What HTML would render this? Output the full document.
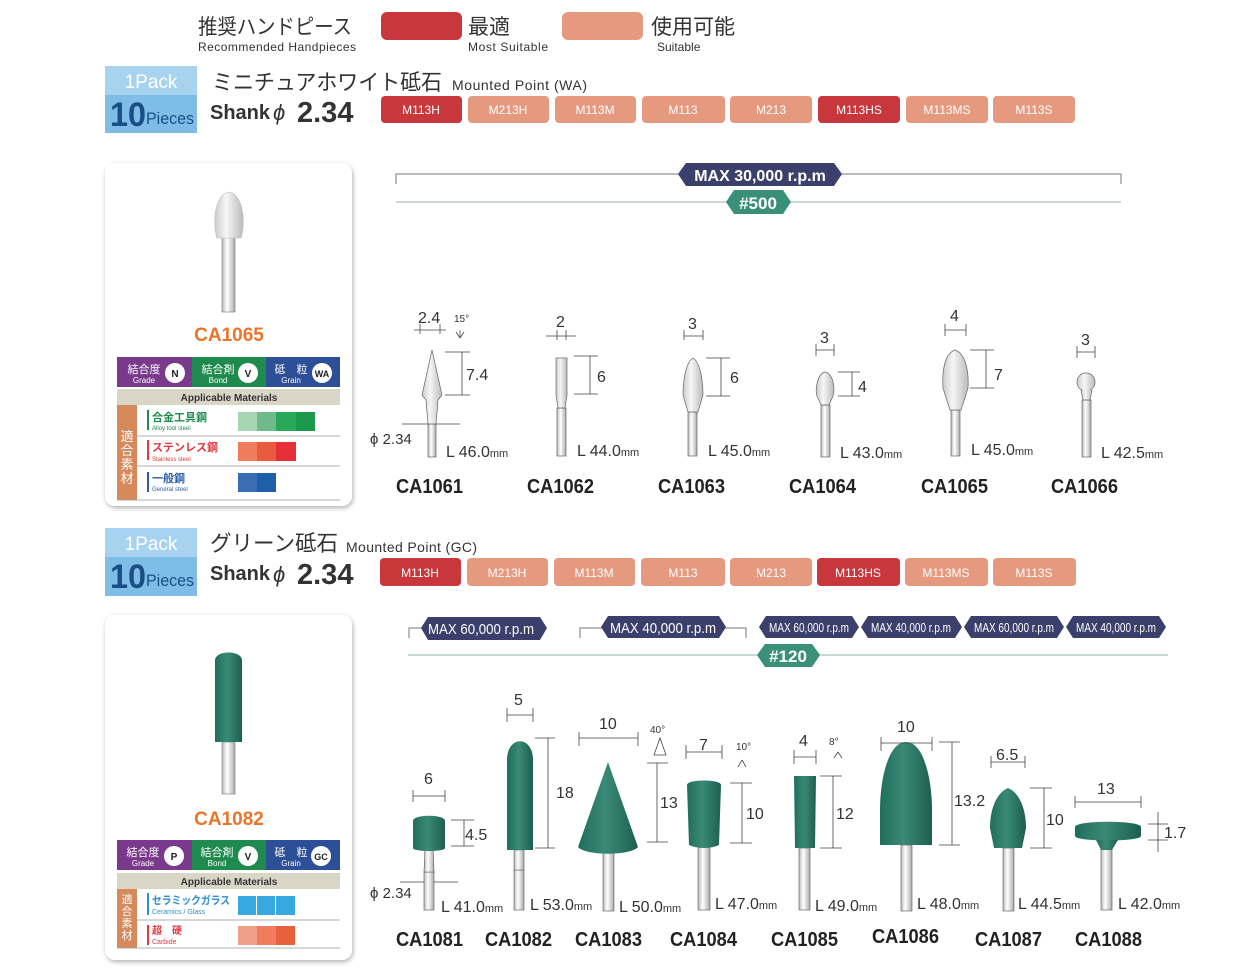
<!DOCTYPE html>
<html><head><meta charset="utf-8"><style>
html,body{margin:0;padding:0;background:#fff;}
svg{display:block;}
text{font-family:"Liberation Sans","Noto Sans CJK JP",sans-serif;}
.c{font-family:"Liberation Sans Narrow","Liberation Sans","Noto Sans CJK JP",sans-serif;}
</style></head><body>
<svg width="1243" height="969" viewBox="0 0 1243 969" xmlns="http://www.w3.org/2000/svg">
<defs>
<filter id="sh" x="-10%" y="-10%" width="120%" height="120%"><feDropShadow dx="1" dy="2" stdDeviation="2.5" flood-color="#000" flood-opacity="0.3"/></filter>
<linearGradient id="shk" x1="0" x2="1"><stop offset="0" stop-color="#bbb"/><stop offset=".4" stop-color="#fff"/><stop offset="1" stop-color="#aaa"/></linearGradient>
<linearGradient id="wh" x1="0" x2="1"><stop offset="0" stop-color="#ccc"/><stop offset=".4" stop-color="#f6f6f6"/><stop offset="1" stop-color="#bbb"/></linearGradient>
<linearGradient id="gr" x1="0" x2="1"><stop offset="0" stop-color="#1f6e5c"/><stop offset=".45" stop-color="#3a8a76"/><stop offset="1" stop-color="#1d5f50"/></linearGradient>
</defs>

<!-- header legend -->
<text x="198" y="34" font-size="21" fill="#333" textLength="154" lengthAdjust="spacingAndGlyphs">推奨ハンドピース</text>
<text x="198" y="51" font-size="12" fill="#333" textLength="158">Recommended Handpieces</text>
<rect x="381" y="12" width="81" height="28" rx="6" fill="#c8373b"/>
<text x="468" y="34" font-size="21" fill="#333">最適</text>
<text x="468" y="51" font-size="12" fill="#333" textLength="80">Most Suitable</text>
<rect x="562" y="12" width="81" height="28" rx="6" fill="#e59a80"/>
<text x="651" y="34" font-size="21" fill="#333">使用可能</text>
<text x="657" y="51" font-size="12" fill="#333">Suitable</text>

<!-- Section 1 header -->
<g>
<path d="M105 66 H197 V133 H105 Z" fill="#7dbde6"/>
<path d="M105 66 H197 V95 H105 Z" fill="#a7d3f0"/>
<text x="151" y="88" font-size="19" fill="#fff" text-anchor="middle" class="c">1Pack</text>
<text x="110" y="126" font-size="34" fill="#1a4f86" class="c" font-weight="bold" textLength="36" lengthAdjust="spacingAndGlyphs">10</text>
<text x="146" y="124" font-size="17" fill="#1a4f86" class="c" textLength="48" lengthAdjust="spacingAndGlyphs">Pieces</text>
</g>
<text x="212" y="90" font-size="22" fill="#333" textLength="230" lengthAdjust="spacingAndGlyphs">ミニチュアホワイト砥石</text>
<text x="452" y="90" font-size="14" fill="#333" textLength="135">Mounted Point (WA)</text>
<text x="210" y="119" font-size="20" fill="#333" font-weight="bold">Shank</text>
<text x="273" y="120" font-size="22" fill="#333" font-style="italic">ϕ</text>
<text x="297" y="122" font-size="29" fill="#333" font-weight="bold">2.34</text>
<g font-size="12" fill="#fff" text-anchor="middle">
<rect x="381" y="96" width="81" height="27" rx="4" fill="#c8373b"/><text x="421" y="114">M113H</text>
<rect x="468" y="96" width="81" height="27" rx="4" fill="#e59a80"/><text x="508" y="114">M213H</text>
<rect x="555" y="96" width="81" height="27" rx="4" fill="#e59a80"/><text x="595" y="114">M113M</text>
<rect x="642" y="96" width="83" height="27" rx="4" fill="#e59a80"/><text x="683" y="114">M113</text>
<rect x="730" y="96" width="82" height="27" rx="4" fill="#e59a80"/><text x="771" y="114">M213</text>
<rect x="818" y="96" width="82" height="27" rx="4" fill="#c8373b"/><text x="859" y="114">M113HS</text>
<rect x="906" y="96" width="82" height="27" rx="4" fill="#e59a80"/><text x="947" y="114">M113MS</text>
<rect x="993" y="96" width="82" height="27" rx="4" fill="#e59a80"/><text x="1034" y="114">M113S</text>
</g>

<!-- Card 1 -->
<rect x="105" y="163" width="247" height="343" rx="10" fill="#fff" filter="url(#sh)"/>
<rect x="222" y="236" width="13" height="76" fill="url(#shk)" stroke="#777" stroke-width=".6"/>
<path d="M229 192 C243 194 246 222 241 238 L217 238 C212 222 215 194 229 192 Z" fill="url(#wh)" stroke="#bbb" stroke-width=".6"/>
<text x="229" y="341" font-size="19" fill="#e8752a" text-anchor="middle" font-weight="bold">CA1065</text>
<!-- table 1 -->
<rect x="117" y="357" width="75" height="30" fill="#7a3a8c"/>
<rect x="192" y="357" width="74" height="30" fill="#1f8a4d"/>
<rect x="266" y="357" width="74" height="30" fill="#2d4f97"/>
<g fill="#fff" text-anchor="middle">
<text x="144" y="373" font-size="11">結合度</text><text x="144" y="383" font-size="8">Grade</text>
<text x="218" y="373" font-size="11">結合剤</text><text x="218" y="383" font-size="8">Bond</text>
<text x="291" y="373" font-size="11">砥　粒</text><text x="291" y="383" font-size="8">Grain</text>
<circle cx="175" cy="373" r="10"/><circle cx="248" cy="373" r="10"/><circle cx="322" cy="373" r="10"/>
</g>
<g fill="#222" text-anchor="middle" font-weight="bold">
<text x="175" y="377" font-size="10">N</text><text x="248" y="377" font-size="10">V</text><text x="322" y="377" font-size="9">WA</text>
</g>
<rect x="117" y="389" width="223" height="16" fill="#d9d6c8"/>
<text x="229" y="401" font-size="10" fill="#333" text-anchor="middle" font-weight="bold">Applicable Materials</text>
<rect x="117" y="405" width="20" height="95" fill="#d68a5c"/>
<g font-size="13" fill="#fff" text-anchor="middle">
<text x="127" y="441">適</text><text x="127" y="455">合</text><text x="127" y="469">素</text><text x="127" y="483">材</text>
</g>
<line x1="137" y1="436" x2="340" y2="436" stroke="#999" stroke-width=".8"/>
<line x1="137" y1="466" x2="340" y2="466" stroke="#999" stroke-width=".8"/>
<line x1="117" y1="500" x2="340" y2="500" stroke="#999" stroke-width=".8"/>
<rect x="147" y="410" width="2" height="20" fill="#1f8a4d"/>
<text x="152" y="421" font-size="11" fill="#1f8a4d" font-weight="bold">合金工具鋼</text>
<text x="152" y="430" font-size="6" fill="#1f8a4d">Alloy tool steel</text>
<rect x="238" y="412" width="19" height="19" fill="#a6d6b4"/><rect x="257" y="412" width="19" height="19" fill="#6dbb89"/><rect x="276" y="412" width="20" height="19" fill="#2aa85a"/><rect x="296" y="412" width="19" height="19" fill="#1b9a4c"/>
<rect x="147" y="440" width="2" height="20" fill="#e0383c"/>
<text x="152" y="451" font-size="11" fill="#e0383c" font-weight="bold">ステンレス鋼</text>
<text x="152" y="461" font-size="6" fill="#e0383c">Stainless steel</text>
<rect x="238" y="442" width="19" height="19" fill="#ef7c5c"/><rect x="257" y="442" width="19" height="19" fill="#ea5a3c"/><rect x="276" y="442" width="20" height="19" fill="#e5303a"/>
<rect x="147" y="472" width="2" height="20" fill="#2d5fa8"/>
<text x="152" y="482" font-size="11" fill="#2d5fa8" font-weight="bold">一般鋼</text>
<text x="152" y="491" font-size="6" fill="#2d5fa8">General steel</text>
<rect x="238" y="473" width="19" height="19" fill="#3a6db3"/><rect x="257" y="473" width="19" height="19" fill="#1f5ea8"/>

<!-- rpm 1 -->
<path d="M396 184 V174 H1121 V184" fill="none" stroke="#777" stroke-width="1"/>
<path d="M686 163 H834 L842 174 L834 186 H686 L678 174 Z" fill="#3b3f6b"/>
<text x="760" y="181" font-size="16" fill="#fff" text-anchor="middle" font-weight="bold">MAX 30,000 r.p.m</text>
<line x1="396" y1="202" x2="1121" y2="202" stroke="#8fb3a8" stroke-width="1"/>
<path d="M734 190 H783 L791 202 L783 214 H734 L726 202 Z" fill="#3a8f78"/>
<text x="758" y="209" font-size="17" fill="#fff" text-anchor="middle" font-weight="bold">#500</text>

<!-- tools 1 -->
<g stroke="#666" stroke-width=".7">
<rect x="428" y="424" width="8" height="33" fill="url(#shk)"/>
<path d="M432 350 L442 395 L438 400 L436 424 L428 424 L426 400 L422 395 Z" fill="url(#wh)"/>
<rect x="557" y="408" width="9" height="48" fill="url(#shk)"/>
<path d="M556 358 H567 L567 395 L565 408 H558 L556 395 Z" fill="url(#wh)"/>
<rect x="688" y="412" width="9" height="44" fill="url(#shk)"/>
<path d="M693 358 C700 362 703 380 703 395 L698 412 H688 L683 395 C683 380 686 362 693 358 Z" fill="url(#wh)"/>
<rect x="821" y="405" width="9" height="52" fill="url(#shk)"/>
<path d="M825 372 C834 374 835 390 833 396 L829 405 H821 L817 396 C815 390 817 374 825 372 Z" fill="url(#wh)"/>
<rect x="951" y="410" width="9" height="46" fill="url(#shk)"/>
<path d="M955 350 C966 354 969 372 968 388 L961 410 H950 L943 388 C942 372 944 354 955 350 Z" fill="url(#wh)"/>
<rect x="1082" y="400" width="9" height="57" fill="url(#shk)"/>
<circle cx="1086" cy="382" r="9" fill="url(#wh)"/>
<path d="M1081 390 L1083 400 H1090 L1092 390" fill="url(#wh)"/>
</g>
<g stroke="#444" stroke-width=".8" fill="none">
<path d="M420 324 V334 M440 324 V334 M414 330 H446"/>
<path d="M460 338 L456 332 M460 338 L464 332 M460 338 V330"/>
<path d="M445 352 H470 M445 395 H470 M462 352 V395"/>
<path d="M557 330 V340 M566 330 V340 M546 336 H576 M574 356 H598 M574 394 H598 M590 356 V394"/>
<path d="M684 330 V340 M703 330 V340 M684 336 H703 M706 358 H730 M706 396 H730 M721 358 V396"/>
<path d="M816 344 V356 M834 344 V356 M816 350 H834 M838 372 H860 M838 396 H860 M852 372 V396"/>
<path d="M945 324 V336 M966 324 V336 M945 330 H966 M970 350 H994 M970 388 H994 M986 350 V388"/>
<path d="M1077 346 V358 M1095 346 V358 M1077 352 H1095"/>
<path d="M402 424 H428 M436 424 H460"/>
</g>
<g font-size="16" fill="#333">
<text x="418" y="323">2.4</text><text x="454" y="322" font-size="10">15°</text>
<text x="466" y="380">7.4</text>
<text x="370" y="444" font-size="15">ϕ 2.34</text>
<text x="446" y="457">L 46.0<tspan font-size="11">mm</tspan></text>
<text x="556" y="327">2</text><text x="597" y="382">6</text>
<text x="577" y="456">L 44.0<tspan font-size="11">mm</tspan></text>
<text x="688" y="329">3</text><text x="730" y="383">6</text>
<text x="708" y="456">L 45.0<tspan font-size="11">mm</tspan></text>
<text x="820" y="343">3</text><text x="858" y="392">4</text>
<text x="840" y="458">L 43.0<tspan font-size="11">mm</tspan></text>
<text x="950" y="321">4</text><text x="994" y="380">7</text>
<text x="971" y="455">L 45.0<tspan font-size="11">mm</tspan></text>
<text x="1081" y="345">3</text>
<text x="1101" y="458">L 42.5<tspan font-size="11">mm</tspan></text>
</g>
<g font-size="20" fill="#222" font-weight="bold">
<text x="396" y="493" textLength="67" lengthAdjust="spacingAndGlyphs">CA1061</text><text x="527" y="493" textLength="67" lengthAdjust="spacingAndGlyphs">CA1062</text><text x="658" y="493" textLength="67" lengthAdjust="spacingAndGlyphs">CA1063</text>
<text x="789" y="493" textLength="67" lengthAdjust="spacingAndGlyphs">CA1064</text><text x="921" y="493" textLength="67" lengthAdjust="spacingAndGlyphs">CA1065</text><text x="1051" y="493" textLength="67" lengthAdjust="spacingAndGlyphs">CA1066</text>
</g>

<!-- Section 2 header -->
<g>
<path d="M105 528 H197 V596 H105 Z" fill="#7dbde6"/>
<path d="M105 528 H197 V557 H105 Z" fill="#a7d3f0"/>
<text x="151" y="550" font-size="19" fill="#fff" text-anchor="middle" class="c">1Pack</text>
<text x="110" y="588" font-size="34" fill="#1a4f86" class="c" font-weight="bold" textLength="36" lengthAdjust="spacingAndGlyphs">10</text>
<text x="146" y="586" font-size="17" fill="#1a4f86" class="c" textLength="48" lengthAdjust="spacingAndGlyphs">Pieces</text>
</g>
<text x="210" y="551" font-size="22" fill="#333" textLength="128" lengthAdjust="spacingAndGlyphs">グリーン砥石</text>
<text x="346" y="552" font-size="14" fill="#333" textLength="131">Mounted Point (GC)</text>
<text x="210" y="580" font-size="20" fill="#333" font-weight="bold">Shank</text>
<text x="273" y="582" font-size="22" fill="#333" font-style="italic">ϕ</text>
<text x="297" y="584" font-size="29" fill="#333" font-weight="bold">2.34</text>
<g font-size="12" fill="#fff" text-anchor="middle">
<rect x="380" y="558" width="81" height="28" rx="4" fill="#c8373b"/><text x="420" y="577">M113H</text>
<rect x="467" y="558" width="81" height="28" rx="4" fill="#e59a80"/><text x="507" y="577">M213H</text>
<rect x="554" y="558" width="81" height="28" rx="4" fill="#e59a80"/><text x="594" y="577">M113M</text>
<rect x="641" y="558" width="84" height="28" rx="4" fill="#e59a80"/><text x="683" y="577">M113</text>
<rect x="730" y="558" width="82" height="28" rx="4" fill="#e59a80"/><text x="771" y="577">M213</text>
<rect x="817" y="558" width="83" height="28" rx="4" fill="#c8373b"/><text x="858" y="577">M113HS</text>
<rect x="905" y="558" width="83" height="28" rx="4" fill="#e59a80"/><text x="946" y="577">M113MS</text>
<rect x="993" y="558" width="83" height="28" rx="4" fill="#e59a80"/><text x="1034" y="577">M113S</text>
</g>

<!-- Card 2 -->
<rect x="105" y="615" width="247" height="345" rx="10" fill="#fff" filter="url(#sh)"/>
<rect x="222" y="742" width="13" height="52" fill="url(#shk)" stroke="#777" stroke-width=".6"/>
<path d="M215 742 V660 C216 650 241 650 242 660 V742 Z" fill="url(#gr)"/>
<text x="229" y="825" font-size="19" fill="#e8752a" text-anchor="middle" font-weight="bold">CA1082</text>
<rect x="117" y="840" width="75" height="30" fill="#7a3a8c"/>
<rect x="192" y="840" width="74" height="30" fill="#1f8a4d"/>
<rect x="266" y="840" width="74" height="30" fill="#2d4f97"/>
<g fill="#fff" text-anchor="middle">
<text x="143" y="856" font-size="11">結合度</text><text x="143" y="866" font-size="8">Grade</text>
<text x="217" y="856" font-size="11">結合剤</text><text x="217" y="866" font-size="8">Bond</text>
<text x="291" y="856" font-size="11">砥　粒</text><text x="291" y="866" font-size="8">Grain</text>
<circle cx="174" cy="856" r="10"/><circle cx="248" cy="856" r="10"/><circle cx="321" cy="856" r="10"/>
</g>
<g fill="#222" text-anchor="middle" font-weight="bold">
<text x="174" y="860" font-size="10">P</text><text x="248" y="860" font-size="10">V</text><text x="321" y="860" font-size="9">GC</text>
</g>
<rect x="117" y="873" width="223" height="16" fill="#d9d6c8"/>
<text x="229" y="885" font-size="10" fill="#333" text-anchor="middle" font-weight="bold">Applicable Materials</text>
<rect x="117" y="889" width="20" height="59" fill="#d68a5c"/>
<g font-size="11" fill="#fff" text-anchor="middle">
<text x="127" y="903">適</text><text x="127" y="915">合</text><text x="127" y="927">素</text><text x="127" y="939">材</text>
</g>
<line x1="137" y1="920" x2="340" y2="920" stroke="#999" stroke-width=".8"/>
<line x1="117" y1="948" x2="340" y2="948" stroke="#999" stroke-width=".8"/>
<rect x="147" y="893" width="2" height="22" fill="#2f8fd0"/>
<text x="152" y="904" font-size="11" fill="#2f8fd0" font-weight="bold" textLength="78" lengthAdjust="spacingAndGlyphs">セラミックガラス</text>
<text x="152" y="914" font-size="7" fill="#2f8fd0">Ceramics / Glass</text>
<rect x="238" y="896" width="18" height="19" fill="#38a8e0"/><rect x="257" y="896" width="18" height="19" fill="#38a8e0"/><rect x="276" y="896" width="19" height="19" fill="#38a8e0"/>
<rect x="147" y="925" width="2" height="20" fill="#e0383c"/>
<text x="152" y="934" font-size="10" fill="#e0383c" font-weight="bold">超　硬</text>
<text x="152" y="944" font-size="7" fill="#e0383c">Carbide</text>
<rect x="238" y="926" width="19" height="19" fill="#f0a088"/><rect x="257" y="926" width="19" height="19" fill="#ef7c5c"/><rect x="276" y="926" width="19" height="19" fill="#e8603c"/>

<!-- rpm 2 -->
<g fill="none" stroke="#777" stroke-width="1">
<path d="M409 638 V628 H493 V638"/><path d="M580 638 V628 H746 V638"/>
</g>
<g fill="#3b3f6b">
<path d="M428 617 H540 L547 628 L540 640 H428 L421 628 Z"/>
<path d="M608 616 H719 L726 627 L719 638 H608 L601 627 Z"/>
<path d="M766 616 H852 L859 627 L852 638 H766 L759 627 Z"/>
<path d="M868 616 H955 L962 627 L955 638 H868 L861 627 Z"/>
<path d="M971 616 H1057 L1064 627 L1057 638 H971 L964 627 Z"/>
<path d="M1073 616 H1159 L1166 627 L1159 638 H1073 L1066 627 Z"/>
</g>
<g fill="#fff" text-anchor="middle" class="c">
<text x="481" y="634" font-size="15" textLength="106" lengthAdjust="spacingAndGlyphs">MAX 60,000 r.p.m</text>
<text x="663" y="633" font-size="15" textLength="106" lengthAdjust="spacingAndGlyphs">MAX 40,000 r.p.m</text>
<text x="809" y="632" font-size="13" textLength="80" lengthAdjust="spacingAndGlyphs">MAX 60,000 r.p.m</text>
<text x="911" y="632" font-size="13" textLength="80" lengthAdjust="spacingAndGlyphs">MAX 40,000 r.p.m</text>
<text x="1014" y="632" font-size="13" textLength="80" lengthAdjust="spacingAndGlyphs">MAX 60,000 r.p.m</text>
<text x="1116" y="632" font-size="13" textLength="80" lengthAdjust="spacingAndGlyphs">MAX 40,000 r.p.m</text>
</g>
<line x1="408" y1="655" x2="1168" y2="655" stroke="#8fb3a8" stroke-width="1"/>
<path d="M765 644 H812 L820 655 L812 667 H765 L757 655 Z" fill="#3a8f78"/>
<text x="788" y="662" font-size="17" fill="#fff" text-anchor="middle" font-weight="bold">#120</text>

<!-- tools 2 -->
<g stroke="#555" stroke-width=".6">
<rect x="424" y="872" width="10" height="38" fill="url(#shk)"/>
<path d="M425 848 L424 872 H434 L433 848 Z" fill="url(#shk)"/>
<rect x="514" y="870" width="10" height="40" fill="url(#shk)"/>
<path d="M514 850 L514 870 H524 L524 850 Z" fill="url(#shk)"/>
<rect x="603" y="848" width="11" height="63" fill="url(#shk)"/>
<rect x="698" y="845" width="12" height="65" fill="url(#shk)"/>
<rect x="799" y="848" width="11" height="62" fill="url(#shk)"/>
<rect x="901" y="845" width="11" height="66" fill="url(#shk)"/>
<rect x="1003" y="848" width="11" height="63" fill="url(#shk)"/>
<rect x="1101" y="848" width="11" height="62" fill="url(#shk)"/>
</g>
<g fill="url(#gr)">
<path d="M413 821 C413 814 445 814 445 821 V848 C445 852 413 852 413 848 Z"/>
<path d="M507 850 V760 C507 735 533 735 533 760 V850 Z"/>
<path d="M608 762 L638 847 C630 856 586 856 578 847 Z"/>
<path d="M687 785 C687 779 721 779 721 785 L719 845 C710 849 698 849 689 845 Z"/>
<path d="M794 776 H816 L815 848 H795 Z"/>
<path d="M906 742 C924 742 932 780 932 810 V845 H880 V810 C880 780 888 742 906 742 Z"/>
<path d="M1008 788 C1020 793 1026 810 1026 828 L1022 848 H994 L990 828 C990 810 996 793 1008 788 Z"/>
<path d="M1075 827 C1075 820 1141 820 1141 827 V836 C1141 842 1075 842 1075 836 Z"/>
<path d="M1096 840 H1118 L1112 850 H1101 Z"/>
</g>
<g stroke="#444" stroke-width=".8" fill="none">
<path d="M413 790 V802 M445 790 V802 M413 796 H445 M451 820 H474 M451 846 H474 M464 820 V846"/>
<path d="M507 708 V722 M533 708 V722 M507 715 H533 M535 738 H555 M535 848 H555 M548 738 V848"/>
<path d="M579 732 V746 M638 732 V746 M579 738 H638 M647 763 H668 M647 842 H668 M657 763 V842"/>
<path d="M686 745 V759 M722 745 V759 M686 752 H722 M730 783 H752 M730 843 H752 M742 783 V843"/>
<path d="M794 750 V764 M816 750 V764 M794 757 H816 M820 776 H842 M820 848 H842 M833 776 V848"/>
<path d="M881 737 V751 M932 737 V751 M881 743 H932 M939 742 H960 M939 845 H960 M952 742 V845"/>
<path d="M991 756 V768 M1025 756 V768 M991 762 H1025 M1030 788 H1052 M1030 848 H1052 M1044 788 V848"/>
<path d="M1075 796 V808 M1141 796 V808 M1075 802 H1141 M1148 824 H1168 M1148 840 H1168 M1158 812 V852"/>
<path d="M660 738 L654 755 H666 Z M742 760 L738 767 M742 760 L746 767 M838 752 L834 758 M838 752 L842 758"/>
<path d="M400 882 H424 M434 882 H458"/>
</g>
<g font-size="16" fill="#333">
<text x="424" y="784">6</text><text x="465" y="840">4.5</text>
<text x="370" y="898" font-size="15">ϕ 2.34</text>
<text x="441" y="912">L 41.0<tspan font-size="11">mm</tspan></text>
<text x="514" y="705">5</text><text x="556" y="798">18</text>
<text x="530" y="910">L 53.0<tspan font-size="11">mm</tspan></text>
<text x="599" y="729">10</text><text x="650" y="733" font-size="10">40°</text><text x="660" y="808">13</text>
<text x="619" y="912">L 50.0<tspan font-size="11">mm</tspan></text>
<text x="699" y="750">7</text><text x="736" y="750" font-size="10">10°</text><text x="746" y="819">10</text>
<text x="715" y="909">L 47.0<tspan font-size="11">mm</tspan></text>
<text x="799" y="746">4</text><text x="829" y="745" font-size="10">8°</text><text x="836" y="819">12</text>
<text x="815" y="911">L 49.0<tspan font-size="11">mm</tspan></text>
<text x="897" y="732">10</text><text x="954" y="806">13.2</text>
<text x="917" y="909">L 48.0<tspan font-size="11">mm</tspan></text>
<text x="996" y="760">6.5</text><text x="1046" y="825">10</text>
<text x="1018" y="909">L 44.5<tspan font-size="11">mm</tspan></text>
<text x="1097" y="794">13</text><text x="1164" y="838">1.7</text>
<text x="1118" y="909">L 42.0<tspan font-size="11">mm</tspan></text>
</g>
<g font-size="20" fill="#222" font-weight="bold">
<text x="396" y="946" textLength="67" lengthAdjust="spacingAndGlyphs">CA1081</text><text x="485" y="946" textLength="67" lengthAdjust="spacingAndGlyphs">CA1082</text><text x="575" y="946" textLength="67" lengthAdjust="spacingAndGlyphs">CA1083</text>
<text x="670" y="946" textLength="67" lengthAdjust="spacingAndGlyphs">CA1084</text><text x="771" y="946" textLength="67" lengthAdjust="spacingAndGlyphs">CA1085</text><text x="872" y="943" textLength="67" lengthAdjust="spacingAndGlyphs">CA1086</text>
<text x="975" y="946" textLength="67" lengthAdjust="spacingAndGlyphs">CA1087</text><text x="1075" y="946" textLength="67" lengthAdjust="spacingAndGlyphs">CA1088</text>
</g>
</svg>
</body></html>
